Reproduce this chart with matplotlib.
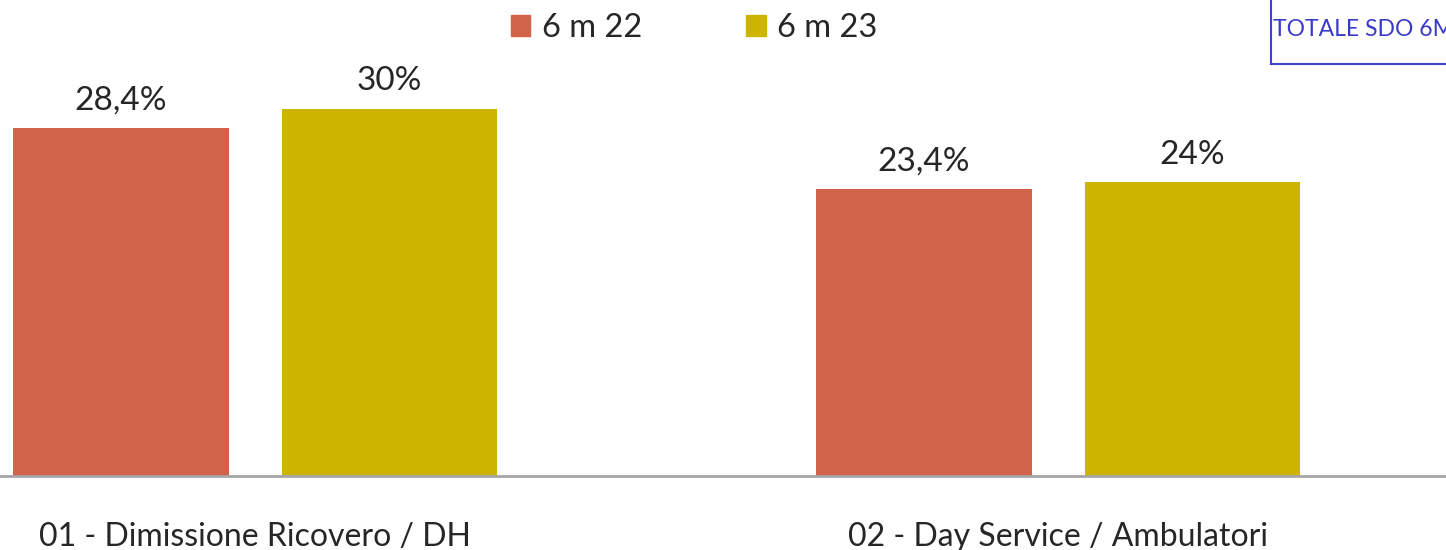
import numpy as np
from matplotlib import pyplot as plt
from matplotlib.patches import Patch

categories = ["01 - Dimissione Ricovero / DH", "02 - Day Service / Ambulatori"]
series_names = ["6 m 22", "6 m 23"]
values_22 = [28.4, 23.4]
values_23 = [30.0, 24.0]
value_labels_22 = ["28,4%", "23,4%"]
value_labels_23 = ["30%", "24%"]

colors = ["#D16349", "#CCB400"]
text_color = "#262626"


def main() -> None:
    plt.rcParams['font.family'] = ['Lato', 'DejaVu Sans']
    fig = plt.figure(figsize=(14.46, 5.5), dpi=100)
    ax = fig.add_axes([0, 74 / 550, 1, 476 / 550])

    x = np.arange(len(categories))
    width = 0.268
    offset = 0.167

    bars_22 = ax.bar(x - offset, values_22, width, color=colors[0], label=series_names[0])
    bars_23 = ax.bar(x + offset, values_23, width, color=colors[1], label=series_names[1])

    for bars, labels in ((bars_22, value_labels_22), (bars_23, value_labels_23)):
        for bar, lab in zip(bars, labels):
            ax.annotate(lab, (bar.get_x() + bar.get_width() / 2, bar.get_height()),
                        xytext=(0, 9), textcoords='offset points',
                        ha='center', va='bottom', fontsize=24, color=text_color)

    ax.set_xlim(-0.3176, 1.483)
    ax.set_ylim(0, 38.86)

    for side in ('top', 'right', 'left'):
        ax.spines[side].set_visible(False)
    ax.spines['bottom'].set_color('#A6A6A6')
    ax.spines['bottom'].set_linewidth(2)
    ax.set_yticks([])
    ax.set_xticks(x)
    ax.set_xticklabels(categories, fontsize=23, color=text_color)
    ax.tick_params(axis='x', length=0, pad=33)

    handles = [Patch(color=c) for c in colors]
    fig.legend(handles, series_names, loc='center', bbox_to_anchor=(0.48, 0.949),
               ncol=2, frameon=False, fontsize=23.5, handlelength=0.6, handleheight=0.6,
               handletextpad=0.35, columnspacing=3.2, labelcolor=text_color)

    # box in the top right corner, cut off by the figure edge
    fig.add_artist(plt.Line2D([1271 / 1446, 1271 / 1446], [1, 1 - 64 / 550],
                              color='#4040C0', lw=1.5))
    fig.add_artist(plt.Line2D([1271 / 1446, 1], [1 - 64 / 550, 1 - 64 / 550],
                              color='#4040C0', lw=1.5))
    fig.text(1273 / 1446, 1 - 30 / 550, "TOTALE SDO 6M", fontsize=16.5,
             color='#3A3AC8', va='center', ha='left')

    fig.savefig("out.png", dpi=100)


if __name__ == '__main__':
    main()
